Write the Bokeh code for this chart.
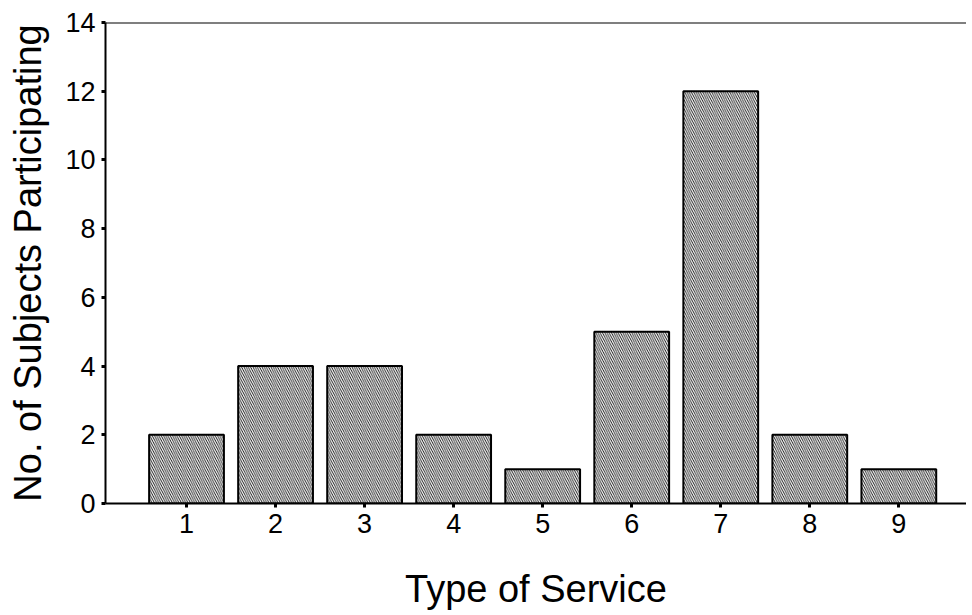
from bokeh.plotting import figure
from bokeh.models import ColumnDataSource, Span, FixedTicker, Range1d
from bokeh.embed import file_html
from bokeh.resources import INLINE

services = [1, 2, 3, 4, 5, 6, 7, 8, 9]
counts = [2, 4, 4, 2, 1, 5, 12, 2, 1]
y_ticks = [0, 2, 4, 6, 8, 10, 12, 14]

FONT = "Liberation Sans"

src = ColumnDataSource(dict(x=services, top=counts))

p = figure(width=966, height=615, output_backend="svg", toolbar_location=None,
           x_range=Range1d(0.09, 9.76), y_range=Range1d(0, 14),
           min_border_left=105, min_border_right=0, min_border_top=22,
           min_border_bottom=112)

p.vbar(x="x", top="top", bottom=0, width=0.84, source=src,
       fill_color="white", line_color="black", line_width=2,
       hatch_pattern="left_diagonal_line", hatch_color="black",
       hatch_scale=4.5, hatch_weight=0.9)

p.xgrid.visible = False
p.ygrid.visible = False
p.outline_line_color = None
p.background_fill_color = "white"
p.border_fill_color = "white"

p.add_layout(Span(location=14, dimension="width", line_color="black", line_width=2))

p.xaxis.ticker = FixedTicker(ticks=services)
p.yaxis.ticker = FixedTicker(ticks=y_ticks)

for ax in (p.xaxis, p.yaxis):
    ax.axis_line_width = 2
    ax.axis_line_color = "black"
    ax.major_tick_in = 0
    ax.major_tick_out = 4
    ax.major_tick_line_width = 3
    ax.minor_tick_line_color = None
    ax.major_label_text_font = FONT
    ax.major_label_text_font_size = "27px"
    ax.major_label_text_color = "black"
    ax.axis_label_text_font = FONT
    ax.axis_label_text_font_size = "38px"
    ax.axis_label_text_font_style = "normal"
    ax.axis_label_text_color = "black"

p.xaxis.axis_label = "Type of Service"
p.yaxis.axis_label = "No. of Subjects Participating"
p.xaxis.major_label_standoff = 6
p.yaxis.major_label_standoff = 6
p.xaxis.axis_label_standoff = 32
p.yaxis.axis_label_standoff = 13

open("out.html", "w").write(file_html(p, INLINE))
